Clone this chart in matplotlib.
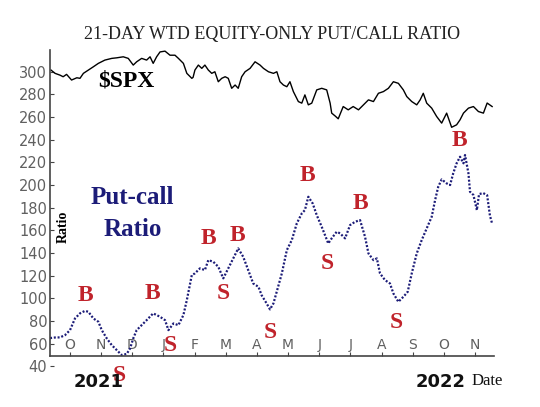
import matplotlib
matplotlib.use("Agg")
import matplotlib.pyplot as plt

# x positions are in months since 1 Oct 2021 (0 = Oct 2021, 12 = Oct 2022)
spx_t = [-0.61, -0.48, -0.32, -0.22, -0.11, 0.05, 0.22, 0.32, 0.43, 0.59, 0.75, 0.91,
         1.12, 1.34, 1.50, 1.71, 1.87, 2.03, 2.14, 2.30, 2.46, 2.57, 2.67, 2.78, 2.89,
         3.05, 3.21, 3.37, 3.48, 3.64, 3.75, 3.91, 3.95, 4.01, 4.12, 4.23, 4.33, 4.44,
         4.55, 4.65, 4.76, 4.87, 4.98, 5.08, 5.19, 5.30, 5.40, 5.51, 5.62, 5.78, 5.94,
         6.10, 6.21, 6.37, 6.53, 6.64, 6.74, 6.85, 6.96, 7.06, 7.17, 7.33, 7.44, 7.54,
         7.65, 7.76, 7.92, 8.08, 8.24, 8.35, 8.40, 8.51, 8.61, 8.77, 8.93, 9.09, 9.26,
         9.42, 9.58, 9.74, 9.90, 10.06, 10.22, 10.38, 10.54, 10.70, 10.81, 10.97, 11.13,
         11.24, 11.34, 11.45, 11.61, 11.77, 11.93, 12.09, 12.25, 12.41, 12.52, 12.63,
         12.79, 12.95, 13.11, 13.27, 13.39, 13.55]
spx_val = [301.5, 298.6, 297.0, 295.6, 297.7, 292.7, 294.7, 294.2, 298.6, 301.5, 304.4, 307.4,
           310.3, 311.8, 312.3, 313.2, 311.8, 305.9, 308.8, 311.8, 310.3, 313.2, 307.4, 313.2, 317.5,
           318.2, 314.6, 314.6, 311.8, 307.4, 298.6, 294.2, 295.0, 301.5, 305.9, 303.0, 305.9, 301.5,
           298.6, 300.0, 291.2, 294.2, 295.6, 294.2, 285.4, 288.3, 285.4, 295.6, 300.0, 303.0, 308.8,
           305.9, 303.0, 300.0, 298.6, 300.0, 291.2, 288.3, 286.8, 291.2, 282.5, 273.7, 272.3, 279.6,
           270.8, 272.3, 284.0, 285.4, 284.0, 272.3, 263.5, 261.0, 258.5, 269.3, 266.4, 269.3, 266.4,
           270.8, 275.2, 273.7, 281.0, 282.5, 285.4, 291.2, 289.8, 284.0, 278.1, 273.7, 270.8,
           275.2, 281.0, 272.3, 267.9, 260.5, 254.7, 263.5, 251.0, 253.2, 257.6, 263.5,
           267.9, 269.3, 264.9, 263.5, 272.4, 269.3]

pc_t = [-0.64, -0.48, -0.32, -0.16, 0.00, 0.16, 0.32, 0.48, 0.59, 0.75, 0.91, 1.02, 1.18,
        1.34, 1.50, 1.66, 1.82, 1.93, 2.03, 2.14, 2.30, 2.46, 2.67, 2.89, 3.05, 3.16, 3.32,
        3.48, 3.64, 3.75, 3.91, 4.01, 4.17, 4.33, 4.44, 4.60, 4.76, 4.92, 5.08, 5.24, 5.40,
        5.56, 5.72, 5.88, 6.05, 6.15, 6.31, 6.42, 6.53, 6.65, 6.80, 6.96, 7.12, 7.28, 7.44,
        7.54, 7.65, 7.79, 7.92, 8.08, 8.29, 8.40, 8.56, 8.67, 8.83, 8.99, 9.15, 9.31, 9.47,
        9.58, 9.74, 9.85, 9.95, 10.11, 10.27, 10.38, 10.54, 10.70, 10.84, 10.97, 11.13,
        11.29, 11.45, 11.61, 11.72, 11.82, 11.93, 12.09, 12.20, 12.30, 12.41, 12.52, 12.63,
        12.68, 12.79, 12.84, 12.95, 13.06, 13.13, 13.26, 13.39, 13.48, 13.55]
pc_val = [65.0, 65.5, 65.6, 67.6, 72.0, 82.3, 86.8, 89.0, 88.2, 82.3, 79.4, 72.0, 64.7,
          58.8, 54.4, 50.0, 51.0, 55.9, 64.7, 72.0, 76.4, 80.8, 86.8, 83.8, 80.8, 72.0, 77.9,
          76.4, 85.3, 98.5, 120.6, 122.1, 126.5, 125.0, 133.8, 132.3, 127.9, 117.7, 126.5, 135.3, 144.1,
          136.7, 125.0, 113.2, 110.2, 102.9, 95.6, 90.3, 95.6, 107.3, 122.1, 142.6, 151.5, 166.2, 175.0,
          177.9, 189.7, 183.8, 173.5, 163.2, 148.5, 153.0, 158.8, 157.4, 153.0, 164.7, 167.6, 169.1, 154.4,
          139.7, 133.8, 135.3, 122.1, 116.2, 113.2, 104.4, 97.0, 101.4, 105.8, 122.1, 139.7,
          151.5, 161.8, 172.0, 186.8, 198.5, 205.0, 201.5, 200.0, 210.3, 219.2, 225.0, 219.2,
          226.5, 210.3, 194.1, 191.2, 177.9, 192.0, 193.0, 191.0, 173.0, 166.0]

signal_text = ["B", "B", "S", "S", "B", "B", "S", "S", "B", "S", "B", "S", "B"]
signal_t = [0.48, 2.66, 1.57, 3.21, 4.43, 5.39, 4.91, 6.42, 7.61, 8.25, 9.31, 10.47, 12.49]
signal_val = [102.9, 104.6, 32.3, 58.8, 153.2, 155.9, 104.6, 70.2, 208.7, 131.1, 184.1, 79.1, 239.7]

month_pos = list(range(14))
month_labels = ["O", "N", "D", "J", "F", "M", "A", "M", "J", "J", "A", "S", "O", "N"]
y_ticks = list(range(40, 301, 20))

W, H = 540, 407
fig = plt.figure(figsize=(W / 100, H / 100), dpi=100)
ax = fig.add_axes([50 / W, (H - 380) / H, 444 / W, 330 / H])
ax.set_xlim(-0.642, 13.61)
ax.set_ylim(28, 319.2)

serif = ["Liberation Serif", "DejaVu Serif"]
navy = "#1c1c78"
red = "#c0232b"
gray = "#606060"

ax.plot(spx_t, spx_val, color="black", lw=1.0)
ax.plot(pc_t, pc_val, color=navy, lw=1.6, linestyle=(0, (0.9, 0.8)))

for s, t, v in zip(signal_text, signal_t, signal_val):
    ax.text(t, v, s, color=red, fontsize=17, fontweight="bold", family=serif,
            ha="center", va="center", zorder=5)

# axes styling
for side in ["top", "right"]:
    ax.spines[side].set_visible(False)
ax.spines["bottom"].set_position(("data", 49))
ax.spines["left"].set_bounds(49, 319.2)
for side in ["left", "bottom"]:
    ax.spines[side].set_color("#444444")
    ax.spines[side].set_linewidth(1.2)

ax.set_yticks(y_ticks)
ax.set_yticklabels([str(v) for v in y_ticks])
ax.tick_params(axis="y", direction="in", length=3, pad=2, labelsize=10.5,
               labelcolor=gray, color="#444444")
ax.set_xticks(month_pos)
ax.set_xticklabels(month_labels)
ax.tick_params(axis="x", direction="in", length=3, pad=-13, labelsize=10,
               labelcolor=gray, color="#444444")

# texts
fig.text(272 / W, 1 - 34 / H, "21-DAY WTD EQUITY-ONLY PUT/CALL RATIO", family=serif,
         fontsize=13, ha="center", va="center", color="#222222")
fig.text(126 / W, 1 - 81 / H, "$SPX", family=serif, fontsize=17, fontweight="bold",
         ha="center", va="center", color="black")
fig.text(132 / W, 1 - 197 / H, "Put-call", family=serif, fontsize=18, fontweight="bold",
         ha="center", va="center", color=navy)
fig.text(133 / W, 1 - 229 / H, "Ratio", family=serif, fontsize=18, fontweight="bold",
         ha="center", va="center", color=navy)
fig.text(63 / W, 1 - 227 / H, "Ratio", family=serif, fontsize=10, fontweight="bold",
         rotation=90, ha="center", va="center", color="black")
fig.text(99 / W, 1 - 382 / H, "2021", family="DejaVu Sans", fontsize=13, fontweight="bold",
         ha="center", va="center", color="#111111", zorder=1)
fig.text(441 / W, 1 - 382 / H, "2022", family="DejaVu Sans", fontsize=13, fontweight="bold",
         ha="center", va="center", color="#111111")
fig.text(487 / W, 1 - 381 / H, "Date", family=serif, fontsize=12,
         ha="center", va="center", color="#111111")

fig.savefig("out.png", dpi=100)
